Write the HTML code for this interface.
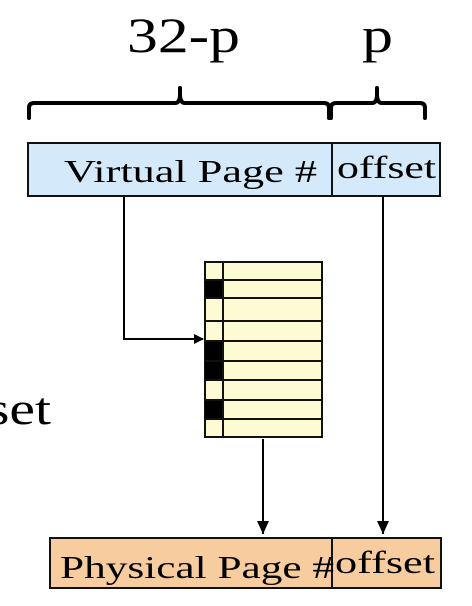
<!DOCTYPE html>
<html><head><style>body{margin:0;background:#fff}svg{display:block}</style></head><body>
<svg width="472" height="606" viewBox="0 0 472 606" font-family="Liberation Serif, serif">
<defs><marker id="a" markerWidth="10" markerHeight="10" refX="9" refY="5" orient="auto" markerUnits="userSpaceOnUse"><path d="M0,0 L10,5 L0,10z" fill="#000"/></marker>
<marker id="d" markerWidth="14" markerHeight="14" refX="7" refY="13" orient="0" markerUnits="userSpaceOnUse"><path d="M1,0 L13,0 L7,13z" fill="#000"/></marker></defs>
<text x="127" y="52" font-size="50" textLength="113" lengthAdjust="spacingAndGlyphs">32-p</text>
<text x="362" y="52" font-size="50" textLength="31" lengthAdjust="spacingAndGlyphs">p</text>
<text x="-13" y="424" font-size="46" textLength="64" lengthAdjust="spacingAndGlyphs">set</text>
<g fill="none" stroke="#000" stroke-width="4" stroke-linecap="round">
<path d="M29,118 V108 Q29,103 34,103 H175 Q180,103 180,94 V88 M180,94 Q180,103 185,103 H324 Q329,103 329,108 V118"/>
<path d="M331,118 V108 Q331,103 336,103 H372 Q377,103 377,94 V88 M377,94 Q377,103 382,103 H420 Q425,103 425,108 V118"/>
</g>
<rect x="28" y="143" width="412" height="53" fill="#d4e9f9" stroke="#111" stroke-width="2"/>
<line x1="332" y1="143" x2="332" y2="196" stroke="#111" stroke-width="2"/>
<text x="64" y="182" font-size="32" textLength="253" lengthAdjust="spacingAndGlyphs">Virtual Page #</text>
<text x="337" y="178" font-size="32" textLength="99" lengthAdjust="spacingAndGlyphs">offset</text>
<g fill="#fdfbd3" stroke="#111" stroke-width="2">
<rect x="205" y="262" width="117" height="175"/>
</g>
<g fill="#000">
<rect x="205" y="280" width="18" height="18"/><rect x="205" y="341" width="18" height="39"/><rect x="205" y="400" width="18" height="19"/>
</g>
<g stroke="#111" stroke-width="2">
<line x1="223" y1="262" x2="223" y2="437"/>
<line x1="205" y1="280" x2="322" y2="280"/><line x1="205" y1="298" x2="322" y2="298"/><line x1="205" y1="321" x2="322" y2="321"/><line x1="205" y1="341" x2="322" y2="341"/><line x1="205" y1="361" x2="322" y2="361"/><line x1="205" y1="380" x2="322" y2="380"/><line x1="205" y1="400" x2="322" y2="400"/><line x1="205" y1="419" x2="322" y2="419"/>
</g>
<g stroke="#000" stroke-width="2" fill="none">
<path d="M124,197 V339 H203" marker-end="url(#a)"/>
<path d="M383,197 V534" marker-end="url(#d)"/>
<path d="M263,439 V534" marker-end="url(#d)"/>
</g>
<rect x="50" y="538" width="391" height="50" fill="#f7cc9e" stroke="#111" stroke-width="2"/>
<line x1="332" y1="538" x2="332" y2="588" stroke="#111" stroke-width="2"/>
<text x="60" y="578" font-size="32" textLength="274" lengthAdjust="spacingAndGlyphs">Physical Page #</text>
<text x="335" y="573" font-size="32" textLength="100" lengthAdjust="spacingAndGlyphs">offset</text>
</svg>
</body></html>
